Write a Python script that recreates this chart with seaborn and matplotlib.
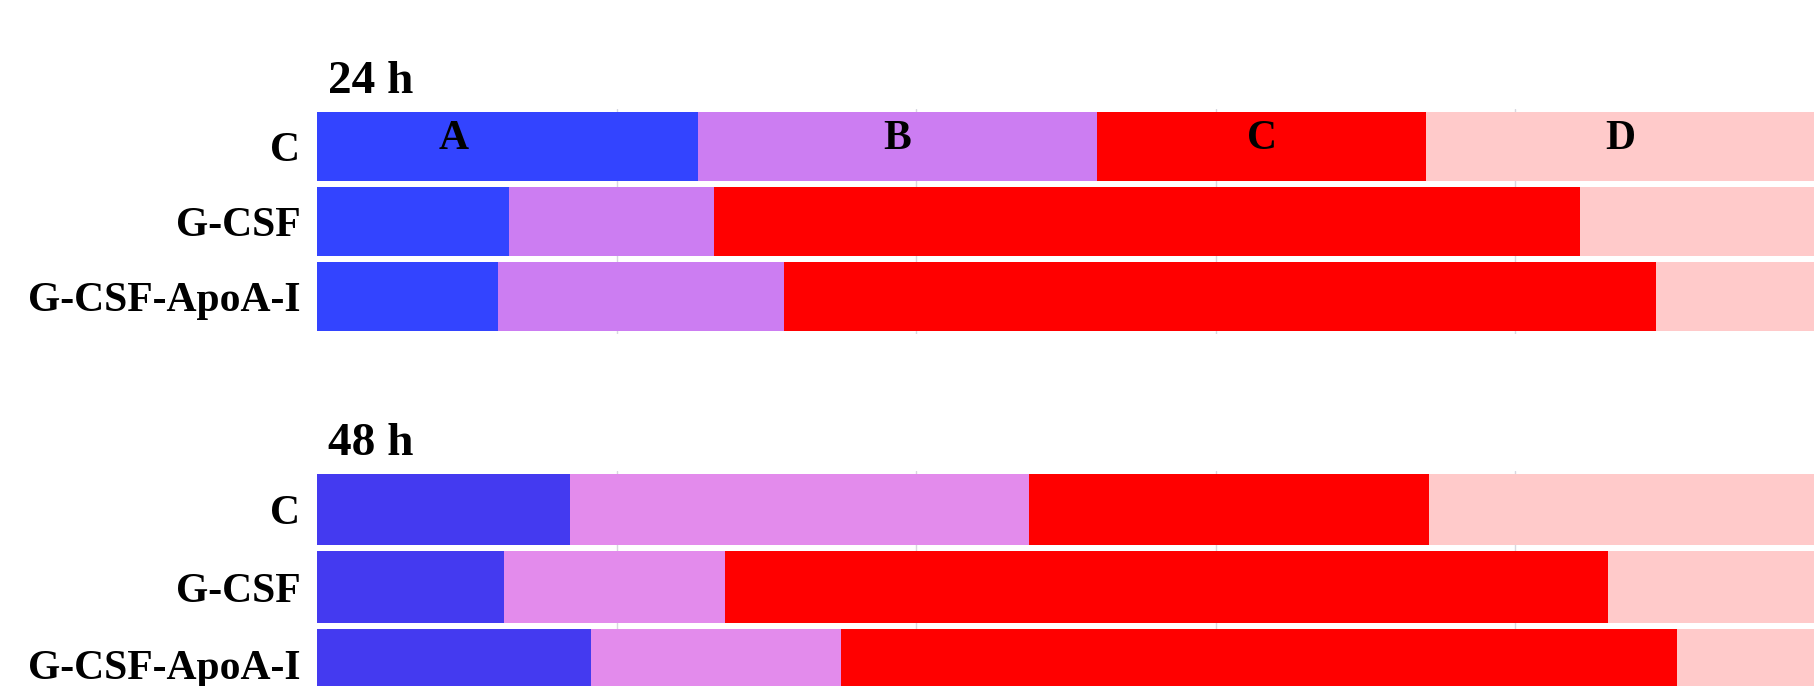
#!/usr/bin/env python3
"""Stacked horizontal bars of the A-D fractions at 24 h and 48 h."""

import matplotlib
matplotlib.use("Agg")
import matplotlib.pyplot as plt
import numpy as np
import pandas as pd
import seaborn as sns

GROUPS = ["C", "G-CSF", "G-CSF-ApoA-I"]
SEGMENTS = ["A", "B", "C", "D"]

# percentages per group (D is the remainder)
H24_A = [25.4, 12.8, 12.1]
H24_B = [26.7, 13.7, 19.1]
H24_C = [21.9, 57.8, 58.2]
H24_D = [26.0, 15.7, 10.6]

H48_A = [16.9, 12.5, 18.3]
H48_B = [30.6, 14.7, 16.7]
H48_C = [26.7, 59.0, 55.8]
H48_D = [25.8, 13.8, 9.2]

COLORS_24 = ["#3344ff", "#cc7df2", "#ff0000", "#ffcaca"]
COLORS_48 = ["#443af0", "#e38bec", "#ff0000", "#ffcaca"]

SERIF = ["Liberation Serif", "DejaVu Serif"]


def draw_panel(ax, title, parts, colors, label_segments):
    frame = pd.DataFrame(dict(zip(SEGMENTS, parts)), index=GROUPS)
    cumulative = frame.cumsum(axis=1)
    ax.set_axisbelow(True)
    for x in (20, 40, 60, 80):
        ax.axvline(x, color="#d8d8e0", lw=1, zorder=0)
    # draw from the outermost cumulative bar inwards so each overlays
    for seg, color in reversed(list(zip(SEGMENTS, colors))):
        sns.barplot(
            x=cumulative[seg].values,
            y=GROUPS,
            orient="h",
            color=color,
            width=0.92,
            ax=ax,
            saturation=1,
            linewidth=0,
            zorder=2,
        )
    ax.set_xlim(0, 100)
    ax.set_ylim(2.5, -0.5)
    sns.despine(ax=ax, left=True, bottom=True, right=True, top=True)
    ax.set_xticks([])
    ax.set_xlabel("")
    ax.set_ylabel("")
    ax.tick_params(axis="y", length=0, pad=12)
    for lab in ax.get_yticklabels():
        lab.set_fontfamily(SERIF)
        lab.set_fontweight("bold")
        lab.set_fontsize(30)
        lab.set_color("black")
    ax.text(0.007, 1.025, title, transform=ax.transAxes, ha="left", va="bottom",
            fontsize=34, fontweight="bold", family=SERIF, color="black")
    if label_segments:
        starts = cumulative.iloc[0] - frame.iloc[0]
        centers = starts + frame.iloc[0] / 2
        centers["A"] = frame.iloc[0]["A"] * 0.36
        for seg in SEGMENTS:
            ax.text(centers[seg], -0.1, seg, ha="center", va="center",
                    fontsize=30, fontweight="bold", family=SERIF,
                    color="black", zorder=5)


def main():
    sns.set_style("white")
    fig = plt.figure(figsize=(18.15, 6.86), dpi=100)
    ax1 = fig.add_axes([0.1747, 0.513, 0.8253, 0.328])
    ax2 = fig.add_axes([0.1747, -0.026, 0.8253, 0.340])
    draw_panel(ax1, "24 h", [H24_A, H24_B, H24_C, H24_D], COLORS_24, True)
    draw_panel(ax2, "48 h", [H48_A, H48_B, H48_C, H48_D], COLORS_48, False)
    fig.savefig("out.png", dpi=100)
    plt.close(fig)


if __name__ == "__main__":
    main()
